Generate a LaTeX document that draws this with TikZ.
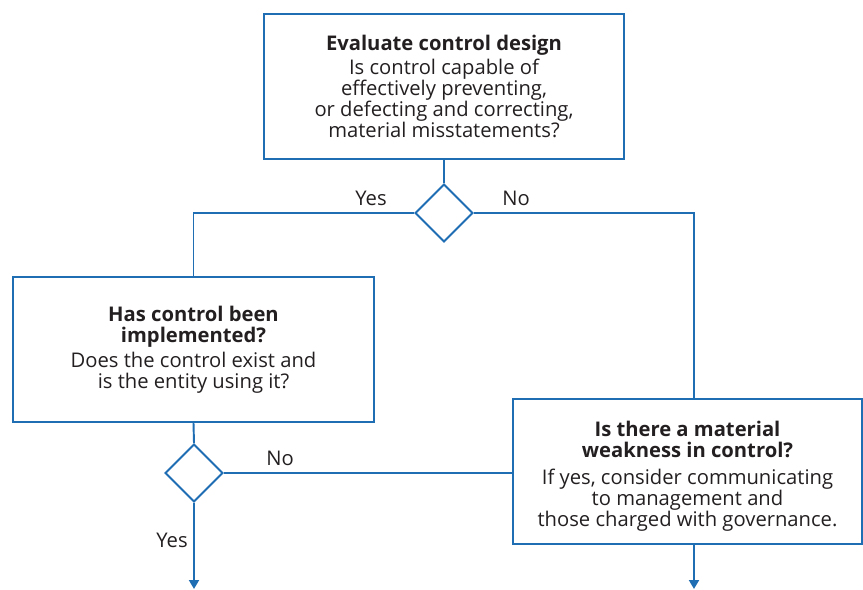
\documentclass[tikz,border=0pt]{standalone}
\usepackage{fontspec}
\setmainfont{Open Sans}
\usetikzlibrary{shapes.geometric,arrows.meta}
\definecolor{flowblue}{HTML}{1F6DB3}
\definecolor{flowtext}{HTML}{231F20}
\tikzset{
  txt/.style={text=flowtext,font=\fontsize{11.5}{12}\selectfont},
  stepbox/.style={txt,draw=flowblue,line width=1.1pt,align=center,inner sep=0pt,minimum height=2.9cm},
  decision/.style={draw=flowblue,line width=1.1pt,diamond,aspect=1,inner sep=0pt,minimum width=1.16cm,minimum height=1.16cm},
  link/.style={draw=flowblue,line width=1.1pt},
  flowarrow/.style={link,-{Triangle[width=0.2cm,length=0.18cm]}}
}
\begin{document}
\begin{tikzpicture}[x=0.02cm,y=-0.02cm]
\useasboundingbox (0,0) rectangle (863,589);
\node[stepbox,minimum width=7.2cm] (design) at (444,86.5)
  {\textbf{Evaluate control design}\\[2pt]
   Is control capable of\\ effectively preventing,\\ or defecting and correcting,\\ material misstatements?};
\node[decision] (d1) at (444,213) {};
\node[stepbox,minimum width=7.22cm] (implemented) at (193.5,349.5)
  {\textbf{Has control been}\\ \textbf{implemented?}\\[2pt]
   Does the control exist and\\ is the entity using it?};
\node[decision] (d2) at (194,473) {};
\node[stepbox,minimum width=6.98cm] (weakness) at (687.5,471.5)
  {\rule{0pt}{14pt}\textbf{Is there a material}\\ \textbf{weakness in control?}\\[3pt]
   If yes, consider communicating\\ to management and\\ those charged with governance.};
\coordinate (nodrop) at (694,399);
\coordinate (yesend) at (194,589);
\coordinate (noend) at (694,589);
\draw[link] (design.south) -- (d1.north);
\draw[link] (d1.west) -| (implemented.north);
\draw[link] (d1.east) -| (nodrop);
\draw[link] (implemented.south) -- (d2.north);
\draw[link] (d2.east) -- (d2.east -| weakness.west);
\draw[flowarrow] (d2.south) -- (yesend);
\draw[flowarrow] (weakness.south -| nodrop) -- (noend);
\node[txt] (yes1) at (371,198) {Yes};
\node[txt] (no1) at (516,198) {No};
\node[txt] (no2) at (280,458) {No};
\node[txt] (yes2) at (172,540) {Yes};
\end{tikzpicture}
\end{document}
